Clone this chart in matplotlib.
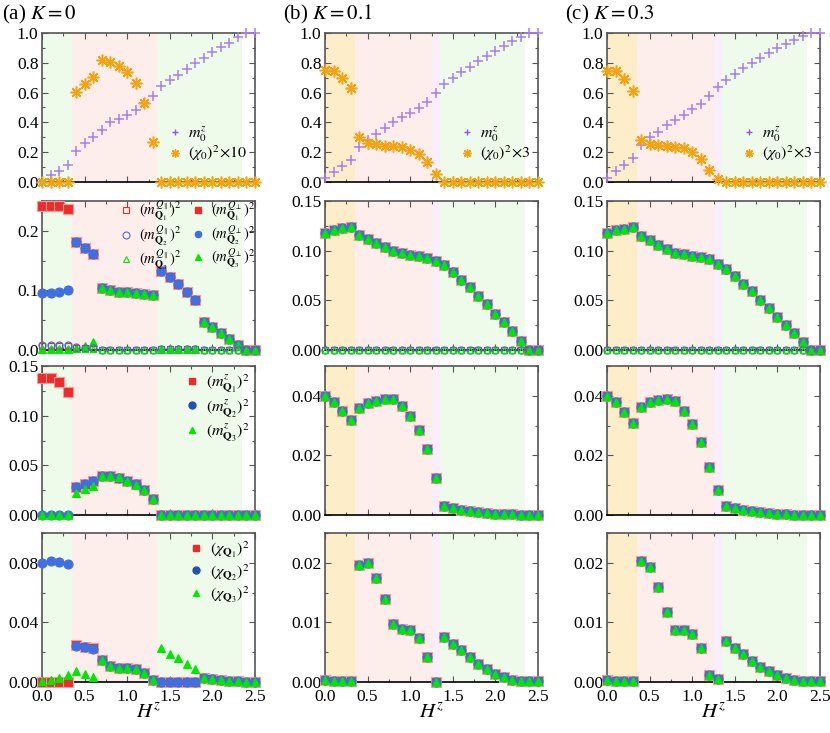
import numpy as np
import matplotlib.pyplot as plt
from matplotlib.ticker import MultipleLocator, FormatStrFormatter
from matplotlib.lines import Line2D

plt.rcParams['font.family'] = 'serif'
plt.rcParams['font.serif'] = ['Liberation Serif', 'DejaVu Serif']
plt.rcParams['mathtext.fontset'] = 'stix'
plt.rcParams['font.size'] = 10

# field values
hz = [0.0, 0.1, 0.2, 0.3, 0.4, 0.5, 0.6, 0.7, 0.8, 0.9, 1.0, 1.1, 1.2,
      1.3, 1.4, 1.5, 1.6, 1.7, 1.8, 1.9, 2.0, 2.1, 2.2, 2.3, 2.4, 2.5]

# row 1: uniform magnetization and chi0
m0z_a = [0.0, 0.045, 0.074, 0.115, 0.21, 0.26, 0.30, 0.35, 0.40, 0.425, 0.45, 0.485, 0.53,
         0.575, 0.645, 0.685, 0.72, 0.76, 0.80, 0.835, 0.87, 0.905, 0.935, 0.97, 1.0, 1.0]
chi0_a = [0, 0, 0, 0, 0.605, 0.66, 0.705, 0.82, 0.805, 0.78, 0.74, 0.665, 0.53,
          0.27, 0, 0, 0, 0, 0, 0, 0, 0, 0, 0, 0, 0]
m0z_b = [0.027, 0.065, 0.108, 0.146, 0.236, 0.28, 0.32, 0.365, 0.40, 0.435, 0.46, 0.50, 0.54,
         0.595, 0.655, 0.70, 0.735, 0.775, 0.81, 0.845, 0.88, 0.915, 0.945, 0.975, 1.0, 1.0]
chi0_b = [0.753, 0.746, 0.70, 0.634, 0.30, 0.265, 0.252, 0.243, 0.24, 0.232, 0.218, 0.187, 0.135,
          0.056, 0, 0, 0, 0, 0, 0, 0, 0, 0, 0, 0, 0]
m0z_c = [0.027, 0.072, 0.117, 0.162, 0.245, 0.30, 0.337, 0.382, 0.416, 0.45, 0.488, 0.526, 0.578,
         0.636, 0.685, 0.726, 0.764, 0.80, 0.83, 0.865, 0.90, 0.926, 0.95, 0.977, 1.0, 1.0]
chi0_c = [0.748, 0.742, 0.69, 0.613, 0.285, 0.258, 0.247, 0.243, 0.236, 0.225, 0.20, 0.157, 0.083,
          0.022, 0, 0, 0, 0, 0, 0, 0, 0, 0, 0, 0, 0]

# row 2: in-plane order parameters (perp = filled, par = open)
mperp1_a = [0.241, 0.242, 0.241, 0.237, 0.182, 0.171, 0.161, 0.104, 0.101, 0.098, 0.097, 0.095, 0.094,
            0.092, 0.133, 0.122, 0.110, 0.097, 0.084, 0.047, 0.038, 0.028, 0.018, 0.009, 0.0, 0.0]
mperp2_a = [0.096, 0.096, 0.098, 0.100, 0.182, 0.171, 0.161, 0.104, 0.101, 0.098, 0.097, 0.095, 0.094,
            0.092, 0.133, 0.122, 0.110, 0.097, 0.084, 0.047, 0.038, 0.028, 0.018, 0.009, 0.0, 0.0]
mperp3_a = [0.002, 0.002, 0.002, 0.002, 0.003, 0.006, 0.013, 0.104, 0.101, 0.098, 0.097, 0.095, 0.094,
            0.092, 0.001, 0.001, 0.001, 0.001, 0.001, 0.047, 0.038, 0.028, 0.018, 0.009, 0.0, 0.0]
mpar1_a = [0.006, 0.006, 0.006, 0.006, 0.004, 0.003, 0.002, 0, 0, 0, 0, 0, 0,
           0, 0.002, 0.002, 0.002, 0.002, 0.002, 0, 0, 0, 0, 0, 0, 0]
mpar2_a = [0.008, 0.008, 0.008, 0.008, 0.005, 0.004, 0.003, 0, 0, 0, 0, 0, 0,
           0, 0.002, 0.002, 0.002, 0.002, 0.002, 0, 0, 0, 0, 0, 0, 0]
mpar3_a = [0.002, 0.002, 0.002, 0.002, 0.002, 0.002, 0.002, 0, 0, 0, 0, 0, 0,
           0, 0.001, 0.001, 0.001, 0.001, 0.001, 0, 0, 0, 0, 0, 0, 0]
mperp_b = [0.1177, 0.1207, 0.1228, 0.124, 0.116, 0.112, 0.108, 0.104, 0.0997, 0.0976, 0.096, 0.0946, 0.093,
           0.090, 0.086, 0.0786, 0.0707, 0.063, 0.0544, 0.046, 0.0367, 0.028, 0.019, 0.0095, 0.0, 0.0]
mperp_c = [0.118, 0.121, 0.122, 0.124, 0.115, 0.111, 0.106, 0.102, 0.098, 0.0966, 0.095, 0.0935, 0.0915,
           0.087, 0.0816, 0.074, 0.0667, 0.059, 0.050, 0.042, 0.0333, 0.0255, 0.017, 0.008, 0.0, 0.0]
mpar_zero = [0.0] * 26

# row 3: longitudinal order parameters
mz1_a = [0.1376, 0.138, 0.1336, 0.124, 0.028, 0.031, 0.034, 0.039, 0.039, 0.0376, 0.0346, 0.031, 0.025,
         0.016, 0, 0, 0, 0, 0, 0, 0, 0, 0, 0, 0, 0]
mz2_a = [0, 0, 0, 0, 0.028, 0.031, 0.034, 0.039, 0.039, 0.0376, 0.0346, 0.031, 0.025,
         0.016, 0, 0, 0, 0, 0, 0, 0, 0, 0, 0, 0, 0]
mz3_a = [0, 0, 0, 0, 0.0225, 0.026, 0.029, 0.039, 0.039, 0.038, 0.0346, 0.0305, 0.025,
         0.0165, 0.0005, 0.0005, 0.0005, 0.0005, 0.0005, 0.0005, 0.0005, 0.0005, 0.0005, 0.0005, 0.0005, 0.0005]
mz_b = [0.040, 0.038, 0.035, 0.032, 0.0358, 0.0375, 0.0384, 0.0389, 0.0389, 0.0367, 0.0333, 0.0286, 0.022,
        0.0125, 0.0031, 0.0024, 0.0018, 0.0013, 0.001, 0.0007, 0.0004, 0.0003, 0.0002, 0.0001, 0.0001, 0.0001]
mz_c = [0.040, 0.0379, 0.0345, 0.031, 0.0364, 0.0379, 0.0387, 0.039, 0.0381, 0.035, 0.0306, 0.0246, 0.016,
        0.0084, 0.003, 0.0022, 0.0017, 0.0012, 0.0009, 0.0007, 0.0004, 0.0002, 0.0001, 0.0001, 0.0, 0.0]

# row 4: chi_Q
chi1_a = [0, 0, 0, 0, 0.0245, 0.0238, 0.0225, 0.015, 0.011, 0.0093, 0.0093, 0.0087, 0.006,
          0.0016, 0, 0, 0, 0, 0, 0.003, 0.002, 0.0014, 0.001, 0.0005, 0.0003, 0.0002]
chi2_a = [0.080, 0.0813, 0.0808, 0.0795, 0.0243, 0.0236, 0.0223, 0.0151, 0.011, 0.0092, 0.0092, 0.0086, 0.006,
          0.0016, 0, 0, 0, 0, 0, 0.003, 0.002, 0.0014, 0.001, 0.0005, 0.0003, 0.0002]
chi3_a = [0.0005, 0.0012, 0.0025, 0.0045, 0.0074, 0.0056, 0.0034, 0.015, 0.011, 0.0092, 0.0092, 0.0086, 0.006,
          0.0016, 0.0225, 0.019, 0.0158, 0.012, 0.009, 0.003, 0.002, 0.0014, 0.001, 0.0005, 0.0003, 0.0002]
chi_b = [0.0003, 0.0002, 0.0002, 0.0002, 0.0196, 0.020, 0.0175, 0.0139, 0.0097, 0.0089, 0.0087, 0.0074, 0.0042,
         0.0, 0.0076, 0.0064, 0.0053, 0.0042, 0.003, 0.0022, 0.0014, 0.0008, 0.0004, 0.0002, 0.0001, 0.0001]
chi_c = [0.0003, 0.0002, 0.0002, 0.0002, 0.0203, 0.0193, 0.016, 0.0118, 0.0088, 0.0088, 0.008, 0.0057, 0.0011,
         0.0005, 0.0069, 0.0057, 0.0047, 0.0035, 0.0025, 0.0018, 0.0012, 0.0007, 0.0004, 0.0002, 0.0001, 0.0001]

# phase regions
GREEN, PINK, ORANGE, PURPLE = '#effbea', '#fdeeeb', '#fdedc9', '#fbeefc'
bands_a = [(0.0, 0.35, GREEN), (0.35, 1.35, PINK), (1.35, 2.35, GREEN)]
bands_bc = [(0.0, 0.35, ORANGE), (0.35, 1.25, PINK), (1.25, 1.35, PURPLE), (1.35, 2.35, GREEN)]

RED, BLUE, GRN = '#ee2b2b', '#3f6fe0', '#00e800'
PURP, ORNG = '#a57ff0', '#f5a20f'
AST = (8, 2, 0)

W, H = 830, 733
fig = plt.figure(figsize=(W / 100, H / 100), dpi=100)

col_left = [42, 325, 607]
row_top = [33, 201, 366, 533]
aw, ah = 213, 149

ylims = [[1.0, 0.25, 0.15, 0.10],
         [1.0, 0.15, 0.05, 0.025],
         [1.0, 0.15, 0.05, 0.025]]
ymaj = [[0.2, 0.1, 0.05, 0.04],
        [0.2, 0.05, 0.02, 0.01],
        [0.2, 0.05, 0.02, 0.01]]
yfmt = [['%.1f', '%.1f', '%.2f', '%.2f'],
        ['%.1f', '%.2f', '%.2f', '%.2f'],
        ['%.1f', '%.2f', '%.2f', '%.2f']]


def mk(ax, y, marker, color, ms, filled=True, ec=None, z=3):
    if filled:
        ax.plot(hz, y, ls='none', marker=marker, ms=ms, mfc=color,
                mec=ec if ec else color, mew=0.8, clip_on=False, zorder=z)
    else:
        ax.plot(hz, y, ls='none', marker=marker, ms=ms, mfc='none',
                mec=color, mew=0.9, clip_on=False, zorder=z)


axes = []
for c in range(3):
    for r in range(4):
        ax = fig.add_axes([col_left[c] / W, 1 - (row_top[r] + ah) / H, aw / W, ah / H])
        for x0, x1, col in (bands_a if c == 0 else bands_bc):
            ax.axvspan(x0, x1, color=col, lw=0, zorder=0)
        ax.set_xlim(0, 2.5)
        ax.set_ylim(0, ylims[c][r])
        ax.xaxis.set_major_locator(MultipleLocator(0.5))
        ax.xaxis.set_minor_locator(MultipleLocator(0.25))
        ax.yaxis.set_major_locator(MultipleLocator(ymaj[c][r]))
        ax.yaxis.set_minor_locator(MultipleLocator(ymaj[c][r] / 2))
        ax.yaxis.set_major_formatter(FormatStrFormatter(yfmt[c][r]))
        ax.tick_params(which='both', direction='in', top=True, right=True,
                       colors='#555555', labelcolor='black', labelsize=12.5)
        ax.tick_params(which='major', length=4, width=0.8, pad=2.5)
        ax.tick_params(which='minor', length=2.5, width=0.8)
        ax.tick_params(axis='x', which='major', pad=5)
        for s in ax.spines.values():
            s.set_color('#555555')
            s.set_linewidth(1.2)
        ax.spines['bottom'].set_color('black')
        if r < 3:
            ax.set_xticklabels([])
        else:
            ax.set_xlabel('$H^z$', fontsize=15, labelpad=-1)
        axes.append(ax)

ax_grid = [[axes[c * 4 + r] for c in range(3)] for r in range(4)]

# row 1
row1 = [(m0z_a, chi0_a, r'$(\chi_0)^2\!\times\!10$'),
        (m0z_b, chi0_b, r'$(\chi_0)^2\!\times\!3$'),
        (m0z_c, chi0_c, r'$(\chi_0)^2\!\times\!3$')]
for c, (m0, ch, lab) in enumerate(row1):
    ax = ax_grid[0][c]
    ax.plot(hz, m0, ls='none', marker='+', ms=7.5, mew=1.1, color=PURP, clip_on=False, zorder=3)
    ax.plot(hz, ch, ls='none', marker=AST, ms=8.5, mew=1.1, color=ORNG, clip_on=False, zorder=4)
    ax.plot(hz, ch, ls='none', marker='o', ms=2.5, mew=0, color=ORNG, clip_on=False, zorder=4)
    h = [Line2D([], [], ls='none', marker='+', ms=5, mew=1.0, color='#8f55e0'),
         Line2D([], [], ls='none', marker=AST, ms=6, mew=1.0, color=ORNG)]
    ax.legend(h, ['$m_0^z$', lab], loc='lower right', bbox_to_anchor=(1.01, 0.06),
              frameon=False, fontsize=11.5, handletextpad=0.2, labelspacing=0.0,
              handlelength=1.2, borderaxespad=0.2)

# row 2
ax = ax_grid[1][0]
mk(ax, mperp1_a, 's', RED, 6.5, ec='#f49a9a')
mk(ax, mperp2_a, 'o', BLUE, 6.5, z=4)
mk(ax, mperp3_a, '^', GRN, 6, z=5)
mk(ax, mpar1_a, 's', RED, 5, filled=False, z=6)
mk(ax, mpar2_a, 'o', BLUE, 5, filled=False, z=6)
mk(ax, mpar3_a, '^', GRN, 5, filled=False, z=6)
h = [Line2D([], [], ls='none', marker='s', ms=5, mfc='none', mec=RED, mew=0.8),
     Line2D([], [], ls='none', marker='o', ms=5, mfc='none', mec=BLUE, mew=0.8),
     Line2D([], [], ls='none', marker='^', ms=5, mfc='none', mec=GRN, mew=0.8),
     Line2D([], [], ls='none', marker='s', ms=4.5, color=RED),
     Line2D([], [], ls='none', marker='o', ms=4.5, color=BLUE),
     Line2D([], [], ls='none', marker='^', ms=4.5, color=GRN)]
labs = [r'$(m^{Q_\parallel}_{\mathbf{Q}_1})^2$', r'$(m^{Q_\parallel}_{\mathbf{Q}_2})^2$',
        r'$(m^{Q_\parallel}_{\mathbf{Q}_3})^2$', r'$(m^{Q_\perp}_{\mathbf{Q}_1})^2$',
        r'$(m^{Q_\perp}_{\mathbf{Q}_2})^2$', r'$(m^{Q_\perp}_{\mathbf{Q}_3})^2$']
ax.legend(h, labs, ncol=2, loc='upper right', bbox_to_anchor=(1.04, 1.07), frameon=False,
          fontsize=10.5, handletextpad=0.3, columnspacing=0.5, labelspacing=0.0,
          handlelength=1.2, borderaxespad=0.2)
for c, y in ((1, mperp_b), (2, mperp_c)):
    ax = ax_grid[1][c]
    mk(ax, mpar_zero, 's', RED, 5, filled=False, z=6)
    mk(ax, mpar_zero, 'o', BLUE, 5, filled=False, z=6)
    mk(ax, mpar_zero, '^', GRN, 5, filled=False, z=6)
    mk(ax, y, 's', RED, 6.5, ec='#f49a9a')
    mk(ax, y, 'o', BLUE, 6.5, z=4)
    mk(ax, y, '^', GRN, 6, z=5)

# row 3 and 4
for r, (y1, y2, y3, sym), yb, yc in (
        (2, (mz1_a, mz2_a, mz3_a, 'm^z'), mz_b, mz_c),
        (3, (chi1_a, chi2_a, chi3_a, r'\chi'), chi_b, chi_c)):
    ax = ax_grid[r][0]
    mk(ax, y1, 's', RED, 6.5, ec='#f49a9a')
    mk(ax, y2, 'o', BLUE, 6.5, z=4)
    mk(ax, y3, '^', GRN, 6, z=5)
    h = [Line2D([], [], ls='none', marker='s', ms=5, color=RED),
         Line2D([], [], ls='none', marker='o', ms=5, color='#2050b0'),
         Line2D([], [], ls='none', marker='^', ms=5, color=GRN)]
    labs = [r'$(%s_{\mathbf{Q}_%d})^2$' % (sym, i) for i in (1, 2, 3)]
    ax.legend(h, labs, loc='upper right', bbox_to_anchor=(1.02, 1.02), frameon=False,
              fontsize=11.5, handletextpad=0.3, labelspacing=0.2,
              handlelength=1.2, borderaxespad=0.2)
    for c, y in ((1, yb), (2, yc)):
        ax = ax_grid[r][c]
        mk(ax, y, 's', RED, 6.5, ec='#f49a9a')
        mk(ax, y, 'o', BLUE, 6.5, z=4)
        mk(ax, y, '^', GRN, 6, z=5)

fig.text(2 / W, 1 - 14 / H, '(a) $K=0$', fontsize=15, va='center')
fig.text(283 / W, 1 - 14 / H, '(b) $K=0.1$', fontsize=15, va='center')
fig.text(565 / W, 1 - 14 / H, '(c) $K=0.3$', fontsize=15, va='center')

fig.savefig('out.png', dpi=100)
